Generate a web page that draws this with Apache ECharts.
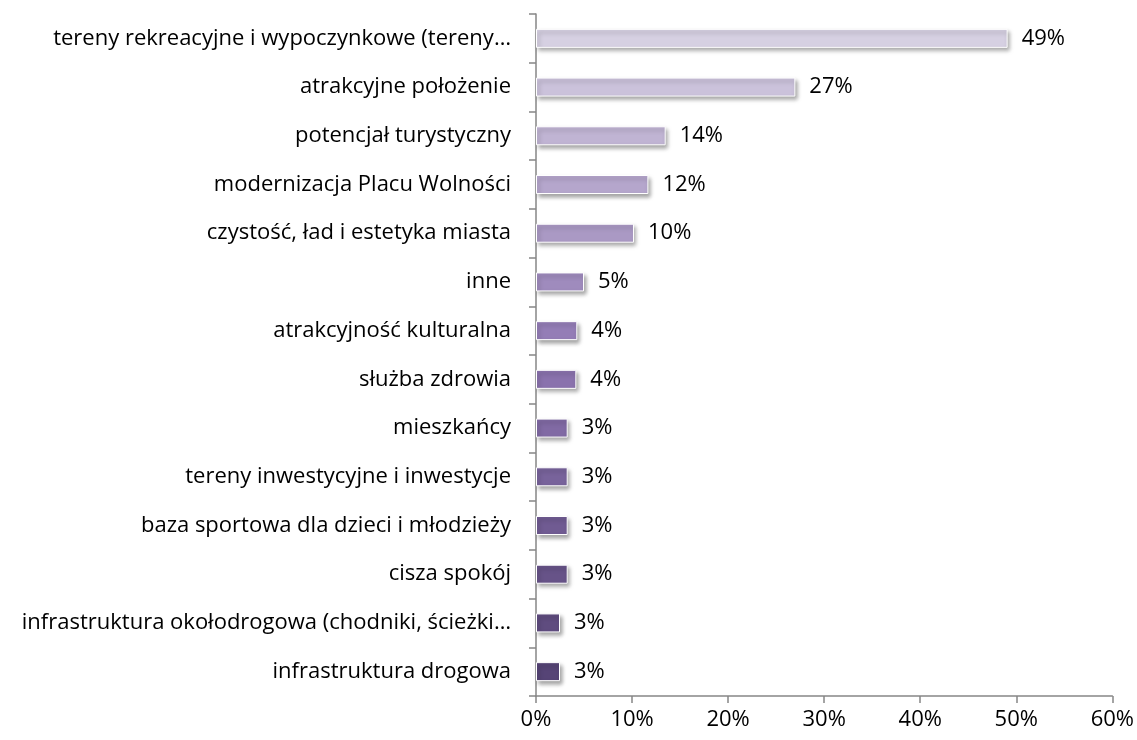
<!DOCTYPE html>
<html>
<head>
<meta charset="utf-8">
<script src="https://cdn.jsdelivr.net/npm/echarts@6/dist/echarts.min.js"></script>
<style>
  html, body { margin: 0; padding: 0; background: #fff; }
  #main { width: 1137px; height: 740px; }
</style>
</head>
<body>
<div id="main"></div>
<script>
var kategorie = [
  'tereny rekreacyjne i wypoczynkowe (tereny…',
  'atrakcyjne położenie',
  'potencjał turystyczny',
  'modernizacja Placu Wolności',
  'czystość, ład i estetyka miasta',
  'inne',
  'atrakcyjność kulturalna',
  'służba zdrowia',
  'mieszkańcy',
  'tereny inwestycyjne i inwestycje',
  'baza sportowa dla dzieci i młodzieży',
  'cisza spokój',
  'infrastruktura okołodrogowa (chodniki, ścieżki…',
  'infrastruktura drogowa'
];
var wartosci = [49.1, 27.0, 13.5, 11.7, 10.2, 5.0, 4.3, 4.2, 3.3, 3.3, 3.3, 3.3, 2.5, 2.5];
var osX = [0, 10, 20, 30, 40, 50, 60];

// kolory: jasny lawendowy -> fiolet -> ciemny fiolet
var stopy = [[214, 208, 226], [142, 118, 178], [86, 68, 118]];
function kolor(i, n) {
  var t = i / (n - 1) * 2;
  var k = Math.min(1, Math.floor(t));
  var f = t - k;
  var a = stopy[k], b = stopy[k + 1];
  var c = a.map(function (x, j) { return Math.round(x + (b[j] - x) * f); });
  return 'rgb(' + c.join(',') + ')';
}

var dane = wartosci.map(function (v, i) {
  return { value: v, itemStyle: { color: kolor(i, wartosci.length) } };
});

var font = 'Open Sans';
var chart = echarts.init(document.getElementById('main'));
var option = {
  animation: false,
  grid: { left: 536, right: 24, top: 14, bottom: 44 },
  xAxis: {
    type: 'value',
    min: 0,
    max: 60,
    interval: 10,
    axisLine: { show: true, lineStyle: { color: '#868686', width: 1.5 } },
    axisTick: { show: true, length: 7, lineStyle: { color: '#868686', width: 1.5 } },
    splitLine: { show: false },
    axisLabel: {
      color: '#000',
      fontFamily: font,
      fontSize: 22,
      margin: 13,
      formatter: function (v) { return osX.indexOf(v) >= 0 ? v + '%' : ''; }
    }
  },
  yAxis: {
    type: 'category',
    inverse: true,
    data: kategorie,
    axisLine: { show: true, lineStyle: { color: '#868686', width: 1.5 } },
    axisTick: { show: true, length: 7, lineStyle: { color: '#868686', width: 1.5 } },
    axisLabel: {
      color: '#000',
      fontFamily: font,
      fontSize: 22,
      margin: 25
    }
  },
  series: [{
    type: 'bar',
    data: dane,
    barWidth: 19,
    itemStyle: {
      borderColor: '#fff',
      borderWidth: 1,
      shadowColor: 'rgba(0,0,0,0.35)',
      shadowBlur: 4,
      shadowOffsetX: 2,
      shadowOffsetY: 3
    },
    label: {
      show: true,
      position: 'right',
      distance: 14,
      color: '#000',
      fontFamily: font,
      fontSize: 22,
      formatter: function (p) { return Math.round(p.value) + '%'; }
    }
  }]
};
chart.setOption(option);
</script>
</body>
</html>
